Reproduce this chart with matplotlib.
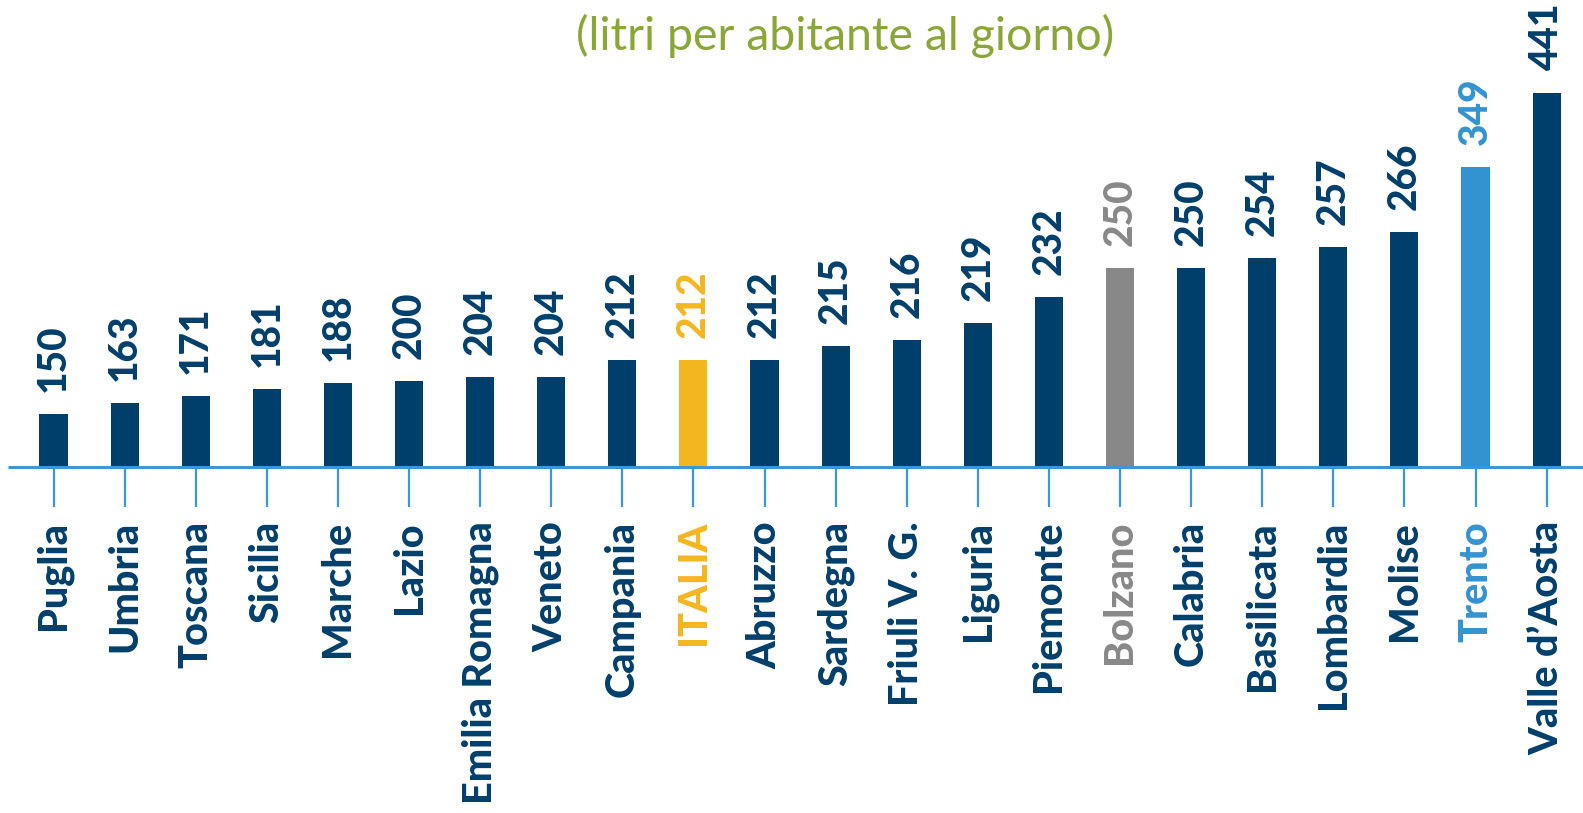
import matplotlib
matplotlib.use("Agg")
import matplotlib.pyplot as plt

plt.rcParams['font.family'] = ['Lato', 'DejaVu Sans']

regions = ["Puglia", "Umbria", "Toscana", "Sicilia", "Marche", "Lazio",
           "Emilia Romagna", "Veneto", "Campania", "ITALIA", "Abruzzo",
           "Sardegna", "Friuli V. G.", "Liguria", "Piemonte", "Bolzano",
           "Calabria", "Basilicata", "Lombardia", "Molise", "Trento",
           "Valle d\u2019Aosta"]
values = [150, 163, 171, 181, 188, 200, 204, 204, 212, 212, 212,
          215, 216, 219, 232, 250, 250, 254, 257, 266, 349, 441]
# the original graphic is not drawn to scale: bar lengths as they appear
bar_len = [53, 64, 71, 78, 84, 86, 90, 90, 107, 107, 107,
           121, 127, 144, 170, 199, 199, 209, 220, 235, 300, 374]

NAVY = "#003f6b"
special = {"ITALIA": "#f4b61f", "Bolzano": "#888888", "Trento": "#3393d0"}
AXIS = "#3a98d8"
GREEN = "#8aa637"

W, H = 1583, 813
BASE = 467          # baseline, px from top
X0, STEP = 53.5, 71.1

fig = plt.figure(figsize=(W / 100, H / 100), dpi=100)
ax = fig.add_axes([0, 0, 1, 1])
ax.set_xlim(-X0 / STEP, (W - X0) / STEP)
ax.set_ylim(-(H - BASE), BASE)
ax.axis("off")

colors = [special.get(r, NAVY) for r in regions]
xs = list(range(len(regions)))
ax.bar(xs, bar_len, width=0.394, color=colors, zorder=2)

# baseline + ticks
ax.plot([-0.64, (W - X0) / STEP], [0, 0], color=AXIS, lw=2.2, zorder=3,
        solid_capstyle="butt")
ax.vlines(xs, -40, 0, color=AXIS, lw=1.6, zorder=1)

for x, h, v, r, c in zip(xs, bar_len, values, regions, colors):
    ax.annotate(str(v), (x, h), xytext=(0, 16), textcoords="offset points",
                rotation=90, ha="center", va="bottom", fontsize=28,
                fontweight="black", color=c)
    ax.text(x, -54, r, rotation=90, ha="center", va="top", fontsize=28.5,
            fontweight="black", color=c)

ax.text((845 - X0) / STEP, BASE - 50, "(litri per abitante al giorno)",
        ha="center", va="baseline", fontsize=33.5, fontweight="normal",
        color=GREEN)

fig.savefig("out.png", dpi=100)
